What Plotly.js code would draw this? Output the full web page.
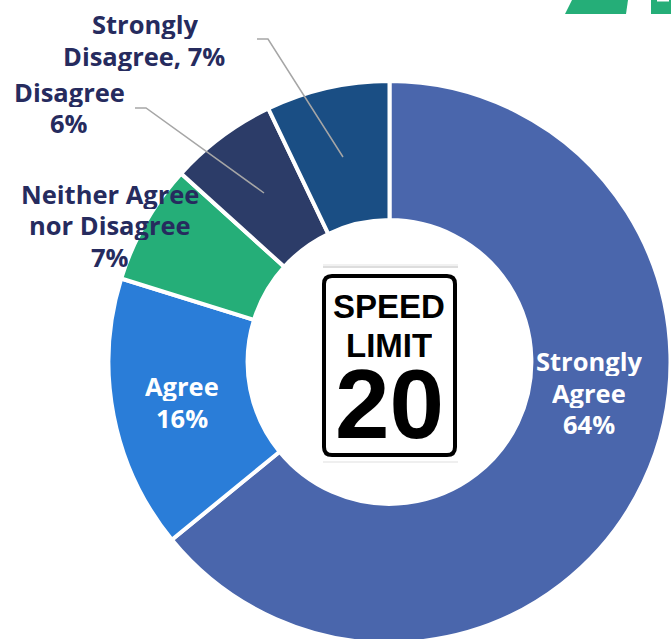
<!DOCTYPE html>
<html>
<head>
<meta charset="utf-8">
<script src="https://cdn.plot.ly/plotly-3.0.1.min.js"></script>
<style>html,body{margin:0;padding:0;background:#fff;overflow:hidden;width:671px;height:639px}</style>
</head>
<body>
<div id="chart"></div>
<script>
const categories = ["Strongly Agree","Agree","Neither Agree nor Disagree","Disagree","Strongly Disagree"];
const values = [64.1,15.7,6.9,6.2,7.1];
const sliceColors = ["#4A66AC","#2A7DD8","#25AE78","#2C3C68","#1A4E84"];
const labelLines = ["Strongly","Agree","64%","Agree","16%","Neither Agree","nor Disagree","7%","Disagree","6%","Strongly","Disagree, 7%"];
const labelX = [589,589,589,182,182,110,110,110,69,69,145,144];
const labelY = [361,393,424,386,418,194,225,257,92,123,24,56];
const labelColors = ["#FFFFFF","#FFFFFF","#FFFFFF","#FFFFFF","#FFFFFF","#262B5E","#262B5E","#262B5E","#262B5E","#262B5E","#262B5E","#262B5E"];

const W = 690, H = 660;
const px = x => x / W;
const py = y => 1 - y / H;

function paperPath(points, close) {
  return "M " + points.map(p => px(p[0]).toFixed(5) + "," + py(p[1]).toFixed(5)).join(" L ") + (close ? " Z" : "");
}
function rectShape(x0, y0, x1, y1, fill) {
  return {type:"rect", xref:"paper", yref:"paper", x0:px(x0), x1:px(x1), y0:py(y0), y1:py(y1),
    fillcolor:fill, line:{width:0}};
}
function roundedPath(x0, y0, x1, y1, r) {
  const f = (x, y) => px(x).toFixed(5) + "," + py(y).toFixed(5);
  return "M " + f(x0+r,y0) + " L " + f(x1-r,y0) + " Q " + f(x1,y0) + " " + f(x1,y0+r) + " L " + f(x1,y1-r) +
    " Q " + f(x1,y1) + " " + f(x1-r,y1) + " L " + f(x0+r,y1) + " Q " + f(x0,y1) + " " + f(x0,y1-r) +
    " L " + f(x0,y0+r) + " Q " + f(x0,y0) + " " + f(x0+r,y0) + " Z";
}

const leader = "#A6A6A6";
const shapes = [
  {type:"path", xref:"paper", yref:"paper", path:paperPath([[572,0],[628,0],[626,14],[565,14]],true), fillcolor:"#25AE78", line:{width:0}},
  {type:"path", xref:"paper", yref:"paper", path:paperPath([[651,0],[671,0],[671,14],[651,14]],true), fillcolor:"#25AE78", line:{width:0}},
  rectShape(657,0,669,1.5,"#FFFFFF"),
  {type:"path", xref:"paper", yref:"paper", path:paperPath([[257,39],[268,39],[343,157]]), line:{color:leader,width:1.5}},
  {type:"path", xref:"paper", yref:"paper", path:paperPath([[135,108],[146,108],[264,193]]), line:{color:leader,width:1.5}},
  rectShape(323,264,458,268,"rgba(120,120,120,0.10)"),
  rectShape(323,266,458,268,"rgba(120,120,120,0.16)"),
  rectShape(321,268,460,461,"#FFFFFF"),
  rectShape(323,461,458,463,"rgba(120,120,120,0.12)"),
  {type:"path", xref:"paper", yref:"paper", path:roundedPath(324,276,455,455,8), fillcolor:"#FFFFFF", line:{color:"#000000",width:4}}
];

const annotations = labelLines.map((t,i) => ({
  xref:"paper", yref:"paper", x:px(labelX[i]), y:py(labelY[i]), height:30,
  xanchor:"center", yanchor:"middle", align:"center", showarrow:false,
  text:"<b>"+t+"</b>",
  font:{family:"Open Sans", size:25.5, color:labelColors[i]}
}));
const signTexts = ["SPEED","LIMIT","20"];
const signY = [306,345,404];
const signSize = [33,33,98];
const signHeight = [34,34,72];
signTexts.forEach((t,i) => annotations.push({
  xref:"paper", yref:"paper", x:px(389), y:py(signY[i]), height:signHeight[i], xanchor:"center", yanchor:"middle", showarrow:false,
  text:"<b>"+t+"</b>", font:{family:"Liberation Sans", size:signSize[i], color:"#000000"}
}));

Plotly.newPlot("chart", [{
  type:"pie", labels:categories, values:values, sort:false, direction:"clockwise", rotation:0,
  hole:0.505, textinfo:"none", hoverinfo:"skip",
  marker:{colors:sliceColors, line:{color:"#FFFFFF", width:4}},
  domain:{x:[px(108.5), px(670.5)], y:[py(643), py(81)]}
}], {
  width:W, height:H, margin:{l:0,r:0,t:0,b:0}, showlegend:false,
  paper_bgcolor:"#FFFFFF", shapes:shapes, annotations:annotations
}, {displayModeBar:false, staticPlot:true});
</script>
</body>
</html>
